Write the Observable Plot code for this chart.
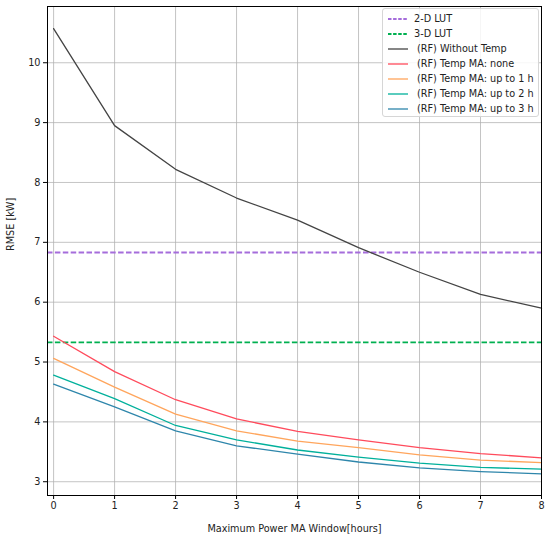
<!DOCTYPE html>
<html>
<head>
<meta charset="utf-8">
<script src="https://cdn.jsdelivr.net/npm/d3@7"></script>
<script src="https://cdn.jsdelivr.net/npm/@observablehq/plot@0.6"></script>
<style>
  body { margin: 0; background: #fff; font-family: "DejaVu Sans", sans-serif; }
  #wrap { position: relative; width: 550px; height: 540px; }
  #legend { position: absolute; left: 382px; top: 8px; width: 157px; height: 109px;
    border: 1px solid #d6d6d6; border-radius: 3px; background: rgba(255,255,255,0.85); box-sizing: border-box; }
  #legend .row { position: absolute; left: 0; height: 15px; font-size: 9.7px; color: #222; white-space: nowrap; }
  #legend svg { position: absolute; left: 4px; top: 2px; }
  #legend span { position: absolute; top: 1px; }
</style>
</head>
<body>
<div id="wrap"></div>
<script>
const windows = [0, 1, 2, 3, 4, 5, 6, 7, 8];
const withoutTemp = [10.57, 8.95, 8.22, 7.74, 7.37, 6.91, 6.50, 6.13, 5.90];
const tempNone    = [5.43, 4.84, 4.37, 4.05, 3.84, 3.70, 3.57, 3.47, 3.40];
const tempUpTo1h  = [5.06, 4.58, 4.13, 3.85, 3.68, 3.57, 3.45, 3.36, 3.32];
const tempUpTo2h  = [4.78, 4.39, 3.94, 3.70, 3.53, 3.41, 3.31, 3.24, 3.21];
const tempUpTo3h  = [4.63, 4.25, 3.85, 3.60, 3.46, 3.33, 3.23, 3.17, 3.13];
const lut2D = 6.83;
const lut3D = 5.33;
const xTicks = [0, 1, 2, 3, 4, 5, 6, 7, 8];
const yTicks = [3, 4, 5, 6, 7, 8, 9, 10];

const series = [
  {name: "(RF) Without Temp", values: withoutTemp, color: "#444444"},
  {name: "(RF) Temp MA: none", values: tempNone, color: "#ff4b5c"},
  {name: "(RF) Temp MA: up to 1 h", values: tempUpTo1h, color: "#ffa55c"},
  {name: "(RF) Temp MA: up to 2 h", values: tempUpTo2h, color: "#00b09b"},
  {name: "(RF) Temp MA: up to 3 h", values: tempUpTo3h, color: "#2e86ab"}
];
const refs = [
  {name: "2-D LUT", value: lut2D, color: "#a56ddb"},
  {name: "3-D LUT", value: lut3D, color: "#00b050"}
];

const rows = series.flatMap(s => windows.map((w, i) => ({name: s.name, x: w, y: s.values[i], color: s.color})));

const chart = Plot.plot({
  width: 550,
  height: 540,
  marginLeft: 47,
  marginRight: 9,
  marginTop: 6,
  marginBottom: 45,
  style: {fontFamily: "DejaVu Sans, sans-serif", fontSize: "9.7px", color: "#222"},
  x: {domain: [-0.1, 8], label: null},
  y: {domain: [2.77, 10.94], label: null},
  marks: [
    Plot.gridX(xTicks, {stroke: "#b0b0b0", strokeOpacity: 0.75, strokeWidth: 1}),
    Plot.gridY(yTicks, {stroke: "#b0b0b0", strokeOpacity: 0.75, strokeWidth: 1}),
    Plot.ruleY(refs, {y: "value", stroke: "color", strokeWidth: 1.8, strokeDasharray: "5.5,2.4"}),
    Plot.line(rows, {x: "x", y: "y", z: "name", stroke: "color", strokeWidth: 1.3}),
    Plot.axisX(xTicks, {tickSize: 4, tickPadding: 3, fontSize: 9.7, label: null, stroke: "#000", tickFormat: d3.format("d")}),
    Plot.axisY(yTicks, {tickSize: 4, tickPadding: 3, fontSize: 9.7, label: null, stroke: "#000", tickFormat: d3.format("d")}),
    Plot.frame({stroke: "#000", strokeWidth: 1}),
    Plot.text(["Maximum Power MA Window[hours]"], {frameAnchor: "bottom", dy: 36, fontSize: 9.7, fill: "#222"}),
    Plot.text(["RMSE [kW]"], {frameAnchor: "left", dx: -37, rotate: -90, fontSize: 9.7, fill: "#222"})
  ]
});

const wrap = document.getElementById("wrap");
wrap.appendChild(chart);

const legend = document.createElement("div");
legend.id = "legend";
const items = [
  ...refs.map(r => ({name: r.name, color: r.color, dash: true})),
  ...series.map(s => ({name: s.name, color: s.color, dash: false}))
];
items.forEach((it, i) => {
  const row = document.createElement("div");
  row.className = "row";
  row.style.top = (3 + i * 15) + "px";
  row.style.width = "155px";
  row.innerHTML = `<svg width="22" height="10"><line x1="1" y1="5" x2="21" y2="5" stroke="${it.color}" stroke-width="${it.dash ? 1.8 : 1.3}" ${it.dash ? 'stroke-dasharray="3.5,1.6"' : ''}/></svg><span style="left:${it.dash ? 31 : 34}px">${it.name}</span>`;
  legend.appendChild(row);
});
wrap.appendChild(legend);
</script>
</body>
</html>
